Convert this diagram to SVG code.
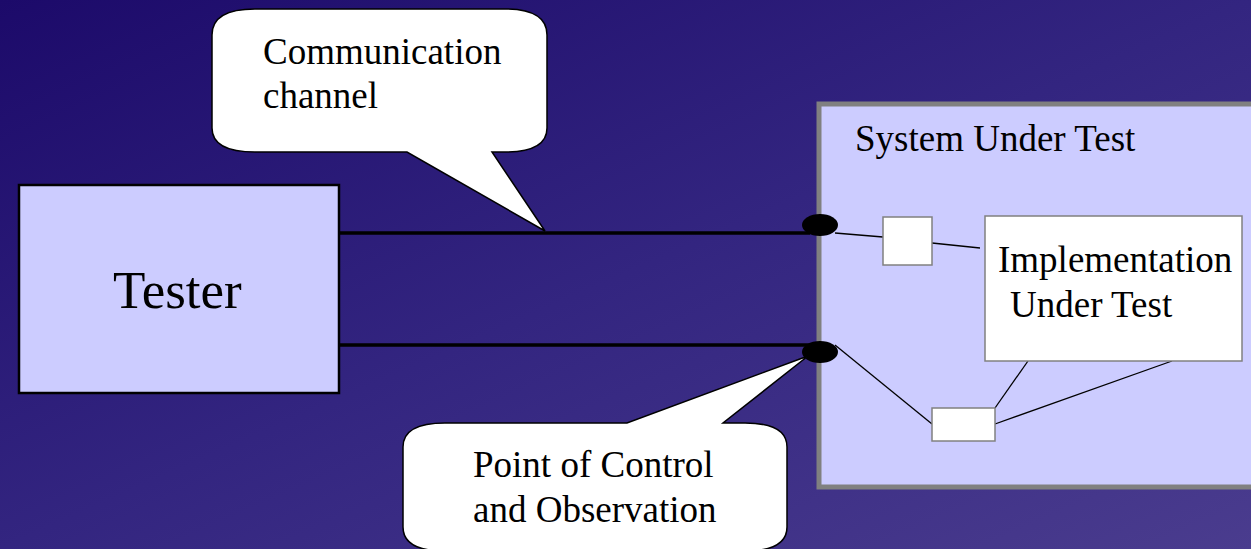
<svg xmlns="http://www.w3.org/2000/svg" width="1251" height="549" viewBox="0 0 1251 549">
<defs>
<linearGradient id="bg" x1="0" y1="0" x2="1" y2="1">
<stop offset="0" stop-color="#1c0a6a"/>
<stop offset="0.5" stop-color="#332580"/>
<stop offset="1" stop-color="#4a3c8e"/>
</linearGradient>
<style>
.t{font-family:"Liberation Serif","Times New Roman",serif;font-size:37px;fill:#000}
.callout{fill:#fff;stroke:#000;stroke-width:1.5}
.wire{stroke:#000;stroke-width:1.3;fill:none}
.port{fill:#fff;stroke:#808080;stroke-width:1.5}
</style>
</defs>
<rect width="1251" height="549" fill="url(#bg)"/>
<g id="connectors">
<line x1="339" y1="233" x2="810" y2="233" stroke="#000" stroke-width="3.5"/>
<line x1="339" y1="345" x2="810" y2="345" stroke="#000" stroke-width="3.5"/>
</g>
<g id="tester">
<rect x="19" y="185" width="320" height="208" fill="#ccccff" stroke="#000" stroke-width="2.5"/>
<text class="t" x="113" y="308" style="font-size:53px">Tester</text>
</g>
<g id="sut">
<rect x="819" y="104" width="440" height="383" fill="#ccccff" stroke="#808080" stroke-width="5"/>
<text class="t" x="855" y="151">System Under Test</text>
</g>
<g id="sut-wires">
<line class="wire" x1="835" y1="233" x2="883" y2="237"/>
<line class="wire" x1="932" y1="243" x2="980" y2="248"/>
<line class="wire" x1="835" y1="345" x2="932" y2="424"/>
<line class="wire" x1="995" y1="408" x2="1028" y2="361"/>
<line class="wire" x1="995" y1="424" x2="1172" y2="361"/>
</g>
<g id="port1">
<rect class="port" x="883" y="217" width="49" height="48"/>
</g>
<g id="port2">
<rect class="port" x="932" y="408" width="63" height="33"/>
</g>
<g id="iut">
<rect x="985" y="216" width="257" height="145" fill="#fff" stroke="#808080" stroke-width="1.5"/>
<text class="t" x="998" y="272">Implementation</text>
<text class="t" x="1010" y="317">Under Test</text>
</g>
<g id="pco1">
<ellipse cx="820" cy="225" rx="18" ry="11" fill="#000"/>
</g>
<g id="pco2">
<ellipse cx="820" cy="352" rx="18" ry="11" fill="#000"/>
</g>
<g id="callout-channel">
<path class="callout" d="M255,9 H505 Q547,9 547,35 V128 Q547,152 505,152 H492 L545,231 L407,152 H255 Q212,152 212,128 V35 Q212,9 255,9 Z"/>
<text class="t" x="263" y="64">Communication</text>
<text class="t" x="263" y="108">channel</text>
</g>
<g id="callout-pco">
<path class="callout" d="M445,423 H627 L808,356 L723,423 H745 Q787,423 787,447 V527 Q787,551 745,551 H445 Q403,551 403,527 V447 Q403,423 445,423 Z"/>
<text class="t" x="473" y="477">Point of Control</text>
<text class="t" x="473" y="522">and Observation</text>
</g>
</svg>
